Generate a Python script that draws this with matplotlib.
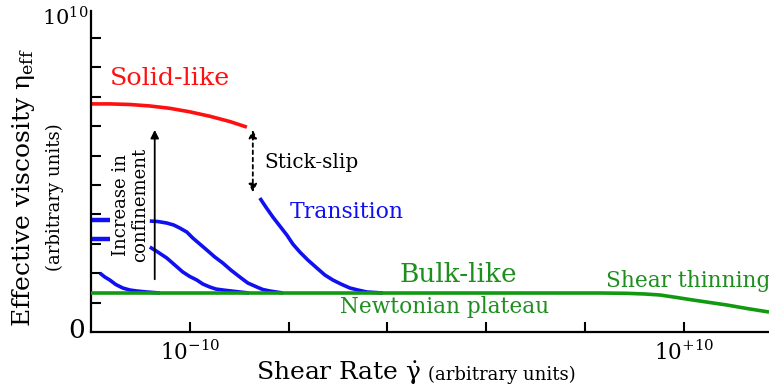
import numpy as np
import matplotlib
matplotlib.use("Agg")
import matplotlib.pyplot as plt

plt.rcParams['font.family'] = ['DejaVu Serif']
plt.rcParams['mathtext.fontset'] = 'dejavuserif'

# x in decades of shear rate (log10), y in linear viscosity units
red_x = [-14.0, -13.24, -12.43, -11.62, -10.81, -10.0, -9.19, -8.38, -7.69]
red_y = [7.76, 7.76, 7.74, 7.69, 7.61, 7.49, 7.34, 7.16, 6.97]

trans_x = [-7.166, -6.923, -6.640, -6.356, -6.073, -5.830, -5.547, -5.223, -4.858,
           -4.534, -4.211, -3.887, -3.522, -3.198, -2.834, -2.186]
trans_y = [4.558, 4.252, 3.912, 3.605, 3.299, 2.993, 2.721, 2.449, 2.177,
           1.939, 1.769, 1.633, 1.497, 1.429, 1.361, 1.327]

conf2_x = [-11.619, -11.296, -10.931, -10.648, -10.405, -10.121, -9.879, -9.595, -9.312,
           -8.988, -8.664, -8.340, -7.976, -7.652, -7.287, -7.045, -6.761, -6.235]
conf2_y = [3.776, 3.759, 3.707, 3.639, 3.537, 3.401, 3.197, 2.993, 2.789,
           2.551, 2.347, 2.109, 1.871, 1.667, 1.531, 1.446, 1.395, 1.327]

conf3_x = [-11.619, -11.296, -10.931, -10.607, -10.283, -10.0, -9.717, -9.474, -9.190,
           -8.947, -8.664, -7.976, -7.6]
conf3_y = [2.891, 2.721, 2.517, 2.279, 2.041, 1.888, 1.769, 1.633, 1.531,
           1.463, 1.429, 1.361, 1.327]

conf4_x = [-13.644, -13.441, -13.239, -12.996, -12.713, -12.429, -12.146, -11.741, -11.215]
conf4_y = [2.007, 1.871, 1.769, 1.616, 1.497, 1.429, 1.395, 1.361, 1.327]

stub_x = [-13.96, -13.24]
stub_y = [3.81, 3.16]

bulk_x = [-14.0, 4.980, 6.599, 7.692, 8.421, 9.028, 9.717, 10.364, 11.053, 11.741, 12.551, 13.441]
bulk_y = [1.327, 1.327, 1.327, 1.316, 1.293, 1.259, 1.173, 1.088, 1.003, 0.918, 0.799, 0.680]

xtick_pos = [-10, -6, -2, 2, 6, 10]
xtick_lab = [r'$10^{-10}$', '', '', '', '', r'$10^{+10}$']
ytick_pos = list(range(1, 11))

RED = '#ff1010'
BLUE = '#1010f0'
GREEN = '#119a11'
GREEN_TXT = '#1e8e1e'

fig = plt.figure(figsize=(7.69, 3.89), dpi=100)
ax = fig.add_axes([0.1183, 0.1465, 0.8817, 0.8252])
ax.set_xlim(-14.0, 13.44)
ax.set_ylim(0, 10.92)

lw = 2.6
ax.plot(bulk_x, bulk_y, color=GREEN, lw=lw, solid_capstyle='butt', zorder=3)
ax.plot(red_x, red_y, color=RED, lw=lw, solid_capstyle='butt')
for xs, ys in [(trans_x, trans_y), (conf2_x, conf2_y), (conf3_x, conf3_y), (conf4_x, conf4_y)]:
    ax.plot(xs, ys, color=BLUE, lw=lw, solid_capstyle='butt', solid_joinstyle='round')
for yv in stub_y:
    ax.plot(stub_x, [yv, yv], color=BLUE, lw=3.2, solid_capstyle='butt')

# confinement arrow
ax.annotate('', xy=(-11.42, 6.97), xytext=(-11.42, 1.70),
            arrowprops=dict(arrowstyle='-|>', color='black', lw=1.3, mutation_scale=12))
ax.text(-12.39, 4.32, 'Increase in\nconfinement', rotation=90, ha='center', va='center',
        fontsize=13, linespacing=1.1)

# stick-slip double arrow
ax.annotate('', xy=(-7.45, 6.97), xytext=(-7.45, 4.66),
            arrowprops=dict(arrowstyle='<|-|>', color='black', lw=1.3, ls=(0, (2, 2)),
                            mutation_scale=12))
ax.text(-7.0, 5.78, 'Stick-slip', ha='left', va='center', fontsize=14.4)

ax.text(-13.24, 8.64, 'Solid-like', color=RED, ha='left', va='center', fontsize=18.3)
ax.text(-5.95, 4.08, 'Transition', color=BLUE, ha='left', va='center', fontsize=15.8)
ax.text(-1.5, 1.94, 'Bulk-like', color=GREEN_TXT, ha='left', va='center', fontsize=19)
ax.text(-3.93, 0.85, 'Newtonian plateau', color=GREEN_TXT, ha='left', va='center', fontsize=15.6)
ax.text(6.84, 1.73, 'Shear thinning', color=GREEN_TXT, ha='left', va='center', fontsize=15.6)

for side in ['top', 'right']:
    ax.spines[side].set_visible(False)
for side in ['left', 'bottom']:
    ax.spines[side].set_linewidth(1.6)

ax.set_xticks(xtick_pos)
ax.set_xticklabels(xtick_lab, fontsize=15.5)
ax.set_yticks(ytick_pos)
ax.set_yticklabels([])
ax.tick_params(direction='in', length=7, width=1.5, pad=6)

ax.text(-14.25, 0.05, '0', ha='right', va='center', fontsize=19)
ax.text(-14.1, 10.7, r'$10^{10}$', ha='right', va='center', fontsize=15)

fig.text(0.03, 0.517, r'Effective viscosity $\mathrm{\eta}_{\mathrm{eff}}$', rotation=90,
         ha='center', va='center', fontsize=18)
fig.text(0.0715, 0.494, '(arbitrary units)', rotation=90, ha='center', va='center', fontsize=13)
fig.text(0.548, 0.023, r'Shear Rate $\dot{\mathrm{\gamma}}$', ha='right', va='baseline', fontsize=18)
fig.text(0.556, 0.023, '(arbitrary units)', ha='left', va='baseline', fontsize=13)

fig.savefig('out.png', dpi=100)
